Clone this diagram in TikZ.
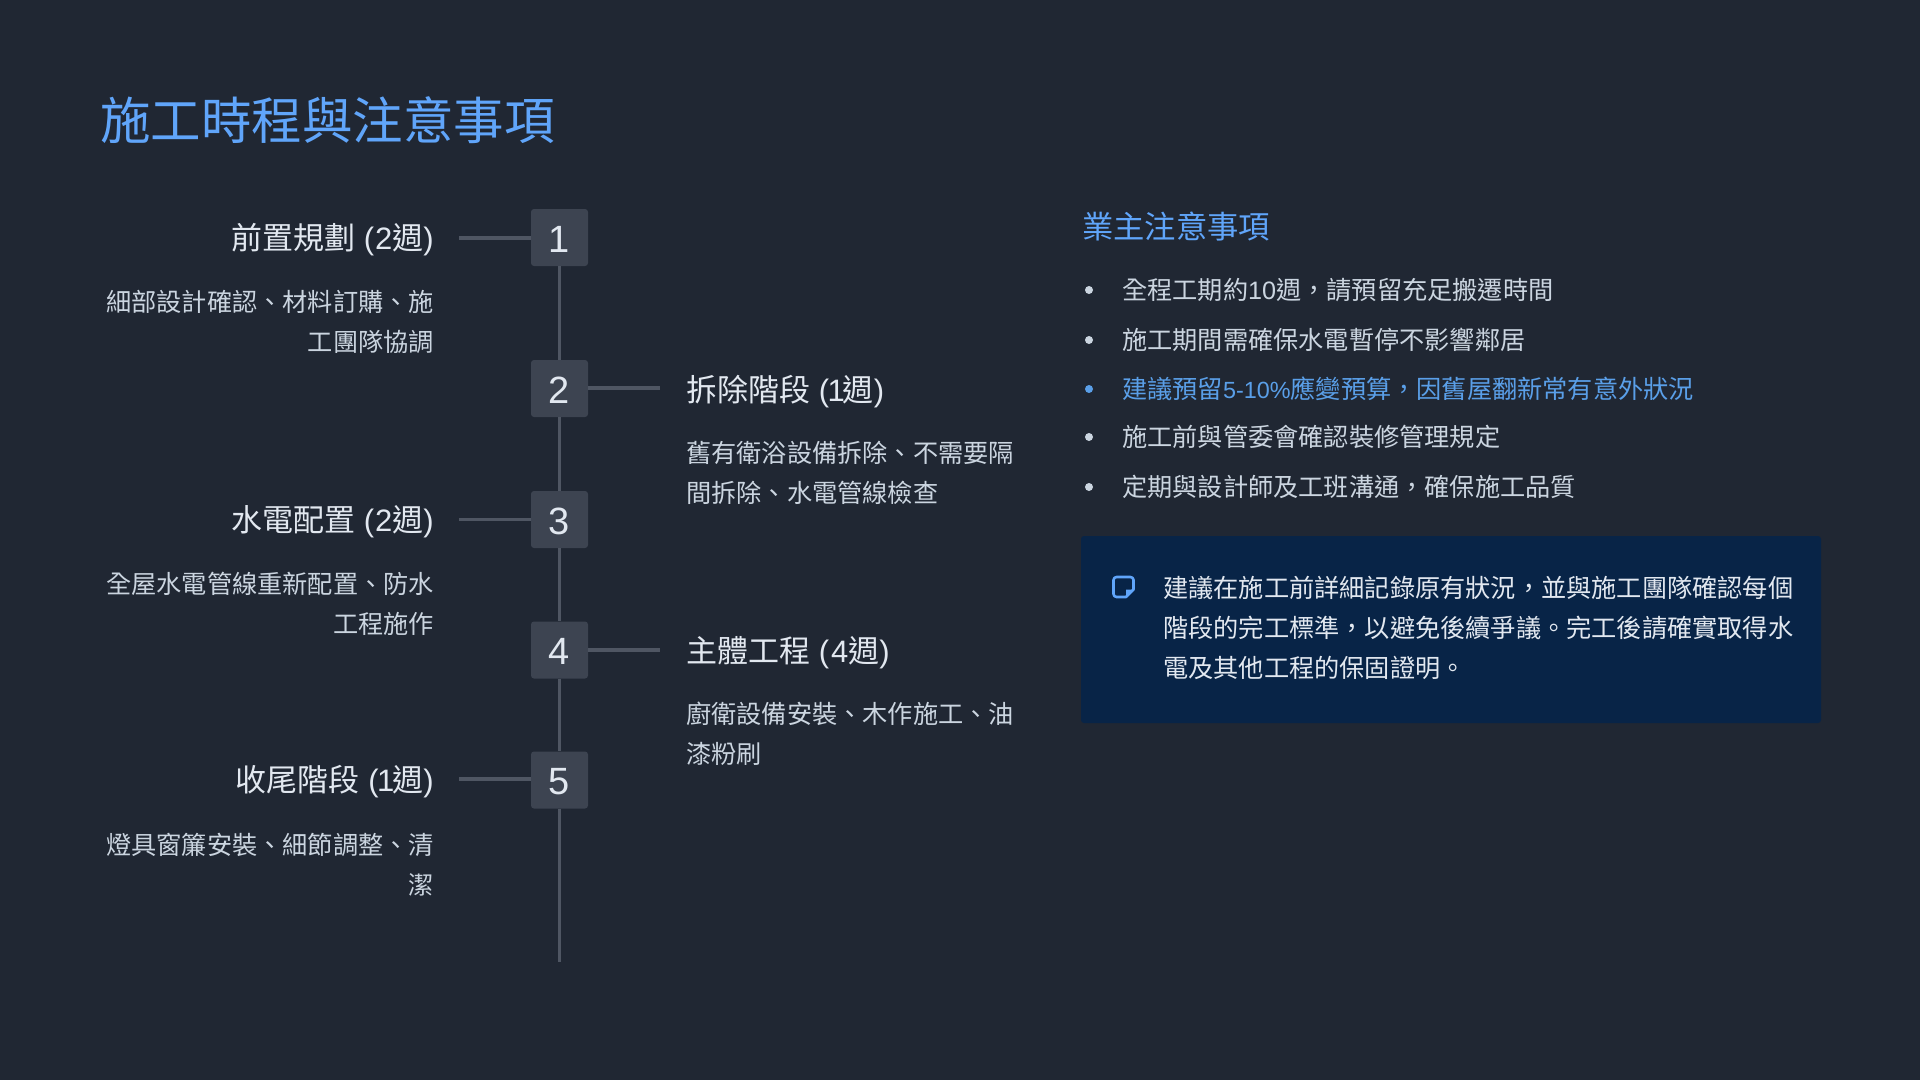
\documentclass[tikz,border=0pt]{standalone}
\usepackage{fontspec}
\setmainfont{Liberation Sans}
\newfontfamily\cjk{Noto Sans CJK TC}
\definecolor{bg}{HTML}{202733}
\definecolor{blue}{HTML}{60A5FA}
\definecolor{bluemid}{HTML}{5A9FE8}
\definecolor{boxfill}{HTML}{3D4451}
\definecolor{linec}{HTML}{4F5663}
\definecolor{headc}{HTML}{E2E8F0}
\definecolor{descc}{HTML}{CBD5E0}
\definecolor{notefill}{HTML}{082447}
\tikzset{
  numbox/.style={fill=boxfill,rounded corners=3pt,minimum width=57pt,minimum height=57pt,inner sep=0pt,text=headc,text height=29.5pt,text depth=0pt,font=\fontsize{38}{38}\selectfont},
  conn/.style={draw=linec,line width=3.3pt},
  headl/.style={inner sep=0pt,text=headc,font=\fontsize{31}{31}\selectfont},
  desc/.style={inner sep=0pt,text=descc,font=\cjk\fontsize{25.2}{40}\selectfont},
  item/.style={inner sep=0pt,text=descc,font=\fontsize{25.2}{25.2}\selectfont,anchor=base west},
  dot/.style={circle,fill=#1,inner sep=0pt,minimum size=8pt},
}
\begin{document}
\begin{tikzpicture}[x=1pt,y=-1pt]
\useasboundingbox (0,0) rectangle (1920,1080);
\fill[bg] (0,0) rectangle (1920,1080);
\node[anchor=base west,inner sep=0pt,text=blue,font=\cjk\fontsize{50.5}{50.5}\selectfont] (title) at (100,139) {施工時程與注意事項};
% numbers
\node[numbox] (n1) at (559.5,237.5) {1};
\node[numbox] (n2) at (559.5,388.5) {2};
\node[numbox] (n3) at (559.5,519.5) {3};
\node[numbox] (n4) at (559.5,650) {4};
\node[numbox] (n5) at (559.5,780) {5};
\coordinate (spineend) at (559.5,962);
\draw[conn] (n1) -- (n2);
\draw[conn] (n2) -- (n3);
\draw[conn] (n3) -- (n4);
\draw[conn] (n4) -- (n5);
\draw[conn] (n5) -- (spineend);
\foreach \i/\y in {1/238,3/519.5,5/779}{
  \coordinate (cl\i) at (459,\y);
  \draw[conn] (cl\i) -- (n\i.west |- cl\i);
}
\foreach \i/\y in {2/388,4/650}{
  \coordinate (cr\i) at (660,\y);
  \draw[conn] (n\i.east |- cr\i) -- (cr\i);
}
% left headings
\node[headl,anchor=base east] (h1) at (434,249) {{\cjk 前置規劃} (\kern1pt 2{\cjk 週})};
\node[headl,anchor=base east] (h3) at (434,531) {{\cjk 水電配置} (\kern1pt 2{\cjk 週})};
\node[headl,anchor=base east] (h5) at (434,791) {{\cjk 收尾階段} (\kern-1.5pt 1\kern-2pt{\cjk 週})};
% right headings
\node[headl,anchor=base west] (h2) at (686,401) {{\cjk 拆除階段} (\kern-1.5pt 1\kern-2pt{\cjk 週})};
\node[headl,anchor=base west] (h4) at (686,662) {{\cjk 主體工程} (\kern2pt 4{\cjk 週})};
% descriptions
\node[desc,anchor=north east,align=right] (d1) at (434,290) {細部設計確認、材料訂購、施\\工團隊協調};
\node[desc,anchor=north east,align=right] (d3) at (434,572) {全屋水電管線重新配置、防水\\工程施作};
\node[desc,anchor=north east,align=right] (d5) at (434,833) {燈具窗簾安裝、細節調整、清\\潔};
\node[desc,anchor=north west,align=left] (d2) at (686,441) {舊有衛浴設備拆除、不需要隔\\間拆除、水電管線檢查};
\node[desc,anchor=north west,align=left] (d4) at (686,702) {廚衛設備安裝、木作施工、油\\漆粉刷};
% right column
\node[anchor=base west,inner sep=0pt,text=blue,font=\cjk\fontsize{31.3}{31.3}\selectfont] (rh) at (1082,238) {業主注意事項};
\node[dot=descc] (b1) at (1089,290) {};
\node[dot=descc] (b2) at (1089,340) {};
\node[dot=bluemid] (b3) at (1089,389) {};
\node[dot=descc] (b4) at (1089,437) {};
\node[dot=descc] (b5) at (1089,487) {};
\node[item] (i1) at (1122,299) {{\cjk 全程工期約}10{\cjk 週，請預留充足搬遷時間}};
\node[item] (i2) at (1122,349) {{\cjk 施工期間需確保水電暫停不影響鄰居}};
\node[item,text=bluemid] (i3) at (1122,398) {{\cjk 建議預留}{\fontsize{23.4}{25}\selectfont 5-10\%}{\cjk 應變預算，因舊屋翻新常有意外狀況}};
\node[item] (i4) at (1122,446) {{\cjk 施工前與管委會確認裝修管理規定}};
\node[item] (i5) at (1122,496) {{\cjk 定期與設計師及工班溝通，確保施工品質}};
% note
\node[fill=notefill,rounded corners=3pt,minimum width=740pt,minimum height=187pt,inner sep=0pt] (note) at (1451,629.5) {};
\node[anchor=north west,align=left,inner sep=0pt,text=headc,font=\cjk\fontsize{25.2}{40}\selectfont] (nt) at (1163,575.5) {建議在施工前詳細記錄原有狀況，並與施工團隊確認每個\\階段的完工標準，以避免後續爭議。完工後請確實取得水\\電及其他工程的保固證明。};
\draw[blue,line width=2.6pt,line join=round] (1126,597) [rounded corners=3pt] -- (1113.5,597) -- (1113.5,577) -- (1133.5,577) [sharp corners] -- (1133.5,589.5) -- cycle;
\fill[blue] (1133.5,589.5) -- (1126,589.5) -- (1126,597) -- cycle;
\end{tikzpicture}
\end{document}
